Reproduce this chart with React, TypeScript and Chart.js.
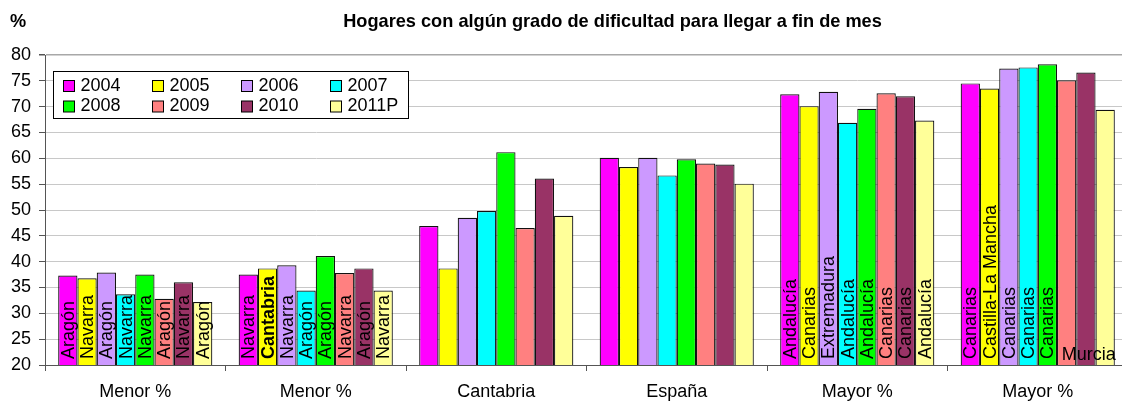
import React, { useEffect, useRef } from "react";
import { Chart, registerables } from "chart.js";

Chart.register(...registerables);

const FONT = "'Liberation Sans', Arial, Helvetica, sans-serif";

const titleText = "Hogares con algún grado de dificultad para llegar a fin de mes";
const yUnit = "%";

const categories = ["Menor %", "Menor %", "Cantabria", "España", "Mayor %", "Mayor %"];
const seriesNames = ["2004", "2005", "2006", "2007", "2008", "2009", "2010", "2011P"];
const seriesColors = ["#FF00FF", "#FFFF00", "#CC99FF", "#00FFFF", "#00FF00", "#FF8080", "#993366", "#FFFF99"];

const v2004 = [37.3, 37.5, 46.9, 60.1, 72.4, 74.5];
const v2005 = [36.8, 38.7, 38.7, 58.3, 70.1, 73.5];
const v2006 = [37.9, 39.3, 48.5, 60.1, 72.9, 77.4];
const v2007 = [33.7, 34.4, 49.8, 56.7, 66.9, 77.6];
const v2008 = [37.5, 41.1, 61.2, 59.8, 69.6, 78.2];
const v2009 = [32.8, 37.8, 46.5, 59.0, 72.6, 75.1];
const v2010 = [36.0, 38.7, 56.1, 58.8, 72.0, 76.6];
const v2011 = [32.2, 34.4, 48.9, 55.1, 67.3, 69.4];

const r2004 = ["Aragón", "Navarra", "", "", "Andalucía", "Canarias"];
const r2005 = ["Navarra", "Cantabria", "", "", "Canarias", "Castilla-La Mancha"];
const r2006 = ["Aragón", "Navarra", "", "", "Extremadura", "Canarias"];
const r2007 = ["Navarra", "Aragón", "", "", "Andalucía", "Canarias"];
const r2008 = ["Navarra", "Aragón", "", "", "Andalucía", "Canarias"];
const r2009 = ["Aragón", "Navarra", "", "", "Canarias", ""];
const r2010 = ["Navarra", "Aragón", "", "", "Canarias", ""];
const r2011 = ["Aragón", "Navarra", "", "", "Andalucía", "Murcia"];

const boldRegions = ["Cantabria"];
const horizontalRegions = ["Murcia"];

const yMin = 20;
const yMax = 80;
const yStep = 5;

const seriesValues = [v2004, v2005, v2006, v2007, v2008, v2009, v2010, v2011];
const seriesRegions = [r2004, r2005, r2006, r2007, r2008, r2009, r2010, r2011];

const barLabelPlugin = {
  id: "barLabels",
  afterDatasetsDraw(chart: any) {
    const ctx = chart.ctx;
    const baseY = chart.scales.y.getPixelForValue(yMin);
    ctx.save();
    ctx.fillStyle = "#000";
    chart.data.datasets.forEach((_ds: any, di: number) => {
      const meta = chart.getDatasetMeta(di);
      const regions = seriesRegions[di];
      meta.data.forEach((bar: any, i: number) => {
        const text = regions[i];
        if (!text) return;
        const p = bar.getProps(["x", "width"], true);
        if (horizontalRegions.includes(text)) {
          ctx.font = `18px ${FONT}`;
          ctx.textAlign = "right";
          ctx.textBaseline = "alphabetic";
          ctx.fillText(text, p.x + p.width / 2 + 1, baseY - 5);
        } else {
          ctx.save();
          ctx.translate(p.x, baseY - 6);
          ctx.rotate(-Math.PI / 2);
          ctx.font = `${boldRegions.includes(text) ? "bold " : ""}18px ${FONT}`;
          ctx.textAlign = "left";
          ctx.textBaseline = "middle";
          ctx.fillText(text, 0, 1);
          ctx.restore();
        }
      });
    });
    ctx.restore();
  },
};

const decorPlugin = {
  id: "decor",
  afterDraw(chart: any) {
    const ctx = chart.ctx;
    ctx.save();
    ctx.fillStyle = "#000";
    ctx.font = `bold 18.2px ${FONT}`;
    ctx.textBaseline = "middle";
    ctx.textAlign = "center";
    ctx.fillText(titleText, 612.5, 22);
    ctx.textAlign = "left";
    ctx.fillText(yUnit, 10, 22);

    const bx = 53.5, by = 71.5, bw = 355, bh = 47;
    ctx.fillStyle = "#fff";
    ctx.fillRect(bx, by, bw, bh);
    ctx.strokeStyle = "#000";
    ctx.lineWidth = 1;
    ctx.strokeRect(bx, by, bw, bh);
    ctx.font = `18px ${FONT}`;
    ctx.textAlign = "left";
    ctx.textBaseline = "middle";
    chart.data.datasets.forEach((ds: any, i: number) => {
      const col = i % 4;
      const row = Math.floor(i / 4);
      const sx = 63.5 + col * 89;
      const sy = 80.5 + row * 20.5;
      ctx.fillStyle = ds.backgroundColor;
      ctx.fillRect(sx, sy, 11, 11);
      ctx.strokeStyle = "#000";
      ctx.strokeRect(sx, sy, 11, 11);
      ctx.fillStyle = "#000";
      ctx.fillText(ds.label, sx + 17, sy + 5.5);
    });
    ctx.restore();
  },
};

export default function App() {
  const ref = useRef<HTMLCanvasElement>(null);

  useEffect(() => {
    if (!ref.current) return;
    const chart = new Chart(ref.current, {
      type: "bar",
      data: {
        labels: categories,
        datasets: seriesNames.map((name, i) => ({
          label: name,
          data: seriesValues[i],
          backgroundColor: seriesColors[i],
          borderColor: "#111",
          borderWidth: 1.2,
          borderSkipped: "bottom",
          categoryPercentage: 0.854,
          barPercentage: 1,
        })),
      },
      options: {
        animation: false,
        responsive: false,
        devicePixelRatio: 1,
        layout: { padding: { top: 55, left: 0, right: 2, bottom: 0 } },
        plugins: {
          legend: { display: false },
          title: { display: false },
          tooltip: { enabled: false },
        },
        scales: {
          x: {
            offset: true,
            grid: {
              offset: true,
              drawOnChartArea: false,
              drawTicks: true,
              tickLength: 6,
              tickColor: "#555",
            },
            border: { color: "#555", width: 1 },
            ticks: {
              color: "#000",
              font: { family: FONT, size: 18 },
              padding: 10,
              maxRotation: 0,
              autoSkip: false,
            },
            afterFit: (scale: any) => {
              scale.height = 36;
            },
          },
          y: {
            min: yMin,
            max: yMax,
            grid: {
              color: (c: any) => (c.tick && c.tick.value === yMax ? "#a8a8a8" : "#c8c8c8"),
              lineWidth: (c: any) => (c.tick && c.tick.value === yMax ? 1.5 : 1),
              tickColor: "#555",
              tickLength: 6,
            },
            border: { color: "#555", width: 1 },
            ticks: {
              stepSize: yStep,
              color: "#000",
              font: { family: FONT, size: 18 },
              padding: 8,
            },
            afterFit: (scale: any) => {
              scale.width = 45;
            },
          },
        },
      },
      plugins: [barLabelPlugin, decorPlugin],
    });
    return () => chart.destroy();
  }, []);

  return (
    <div
      style={{
        position: "fixed",
        left: 0,
        top: 0,
        width: 1122,
        height: 401,
        overflow: "hidden",
        background: "#fff",
      }}
    >
      <canvas ref={ref} width={1130} height={401} style={{ width: 1130, height: 401, display: "block" }} />
    </div>
  );
}
